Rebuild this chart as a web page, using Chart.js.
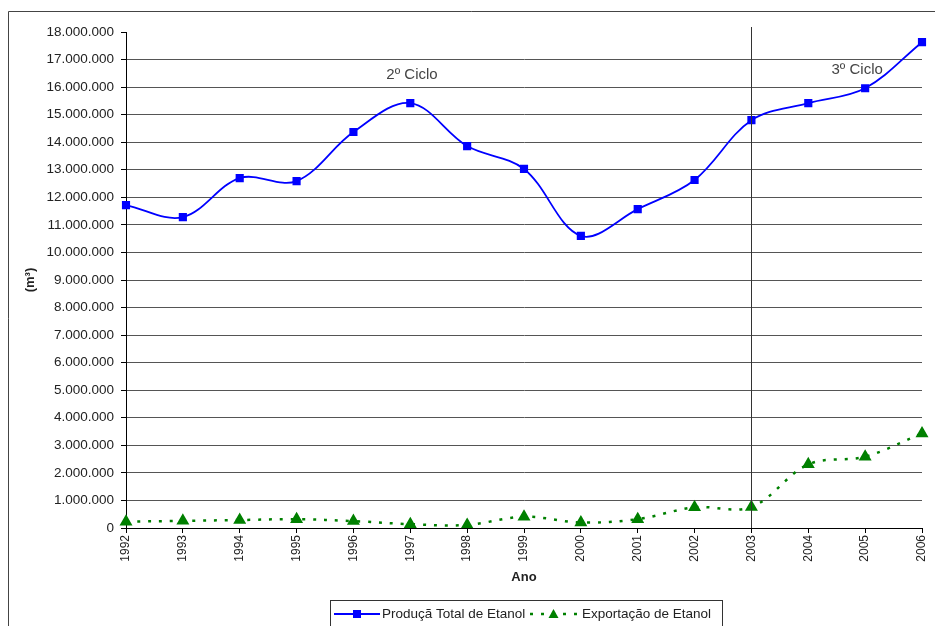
<!DOCTYPE html>
<html>
<head>
<meta charset="utf-8">
<title>Produção e Exportação de Etanol</title>
<script src="https://cdn.jsdelivr.net/npm/chart.js@4.4.1/dist/chart.umd.min.js"></script>
<style>
    body {
        margin: 0;
        padding: 0;
        background-color: #fff;
    }

    canvas {
        display: block;
    }
</style>
</head>
<body>
<canvas id="grafico" width="935" height="626"></canvas>
<script>
    // dados (m³)
    const anos = ["1992", "1993", "1994", "1995", "1996", "1997", "1998", "1999",
                  "2000", "2001", "2002", "2003", "2004", "2005", "2006"];
    const producao = [11720000, 11280000, 12700000, 12590000, 14370000, 15420000, 13860000, 13030000,
                      10600000, 11570000, 12630000, 14800000, 15420000, 15960000, 17630000];
    const exportacao = [230000, 260000, 290000, 320000, 250000, 140000, 110000, 410000,
                        200000, 320000, 750000, 760000, 2310000, 2590000, 3430000];
    const ciclos = [
        { texto: "2º Ciclo", x: 5.03, y: 16450000 },
        { texto: "3º Ciclo", x: 12.86, y: 16620000 }
    ];
    const anoDivisao = "2003";

    const fonte = "Arial, 'Liberation Sans', sans-serif";

    function formatar(v) {
        return String(v).replace(/\B(?=(\d{3})+(?!\d))/g, ".");
    }

    const extras = {
        id: "extras",
        afterDraw(chart) {
            const ctx = chart.ctx;
            const x = chart.scales.x;
            const y = chart.scales.y;
            const area = chart.chartArea;

            ctx.save();
            // moldura
            ctx.strokeStyle = "#444";
            ctx.lineWidth = 1;
            ctx.beginPath();
            ctx.moveTo(8.5, 626);
            ctx.lineTo(8.5, 11.5);
            ctx.lineTo(935, 11.5);
            ctx.stroke();

            // divisão entre ciclos
            const xd = Math.round(x.getPixelForValue(anos.indexOf(anoDivisao))) + 0.5;
            ctx.strokeStyle = "#333";
            ctx.beginPath();
            ctx.moveTo(xd, area.top - 5);
            ctx.lineTo(xd, area.bottom);
            ctx.stroke();

            // textos dos ciclos
            ctx.fillStyle = "#444";
            ctx.font = "15px " + fonte;
            ctx.textAlign = "center";
            ctx.textBaseline = "middle";
            ciclos.forEach(c => {
                ctx.fillText(c.texto, x.getPixelForValue(c.x), y.getPixelForValue(c.y));
            });

            // legenda
            ctx.strokeStyle = "#333";
            ctx.fillStyle = "#fff";
            ctx.fillRect(330, 600, 392, 30);
            ctx.strokeRect(330.5, 600.5, 392, 30);
            ctx.font = "13.5px " + fonte;
            ctx.textAlign = "left";
            ctx.fillStyle = "#222";
            const ly = 614;
            const itens = [{ x0: 334, x1: 380, tx: 382 }, { x0: 530, x1: 577, tx: 582 }];
            chart.data.datasets.forEach((ds, i) => {
                const it = itens[i];
                ctx.save();
                ctx.strokeStyle = ds.borderColor;
                ctx.lineWidth = ds.borderWidth;
                ctx.setLineDash(ds.borderDash || []);
                ctx.beginPath();
                ctx.moveTo(it.x0, ly);
                ctx.lineTo(it.x1, ly);
                ctx.stroke();
                ctx.setLineDash([]);
                ctx.fillStyle = ds.pointBackgroundColor;
                const cx = (it.x0 + it.x1) / 2;
                if (ds.pointStyle === "rect") {
                    ctx.fillRect(cx - 4, ly - 4, 8, 8);
                } else {
                    ctx.beginPath();
                    ctx.moveTo(cx, ly - 5);
                    ctx.lineTo(cx + 5, ly + 4);
                    ctx.lineTo(cx - 5, ly + 4);
                    ctx.closePath();
                    ctx.fill();
                }
                ctx.restore();
                ctx.fillText(ds.label, it.tx, ly);
            });
            ctx.restore();
        }
    };

    new Chart(document.getElementById("grafico"), {
        type: "line",
        data: {
            labels: anos,
            datasets: [{
                label: "Produçã Total de Etanol",
                data: producao,
                borderColor: "#0000ff",
                backgroundColor: "#0000ff",
                pointBackgroundColor: "#0000ff",
                pointBorderColor: "#0000ff",
                borderWidth: 1.8,
                pointStyle: "rect",
                pointRadius: 4.5,
                tension: 0.35,
                fill: false
            }, {
                label: "Exportação de Etanol",
                data: exportacao,
                borderColor: "#008000",
                backgroundColor: "#008000",
                pointBackgroundColor: "#008000",
                pointBorderColor: "#008000",
                borderWidth: 2.5,
                borderDash: [3, 8],
                pointStyle: "triangle",
                pointRadius: 5,
                tension: 0.35,
                fill: false
            }]
        },
        options: {
            responsive: false,
            animation: false,
            layout: {
                padding: { left: 0, right: 13, top: 32, bottom: 38 }
            },
            plugins: {
                legend: { display: false },
                tooltip: { enabled: false }
            },
            scales: {
                x: {
                    offset: false,
                    afterFit(scale) {
                        scale.height = 60;
                        scale.paddingLeft = 0;
                        scale.paddingRight = 0;
                    },
                    border: { color: "#000", width: 1 },
                    grid: {
                        drawOnChartArea: false,
                        drawTicks: true,
                        tickLength: 5,
                        tickColor: "#000"
                    },
                    ticks: {
                        minRotation: 90,
                        maxRotation: 90,
                        padding: 2,
                        color: "#222",
                        font: { family: fonte, size: 12 }
                    },
                    title: {
                        display: true,
                        text: "Ano",
                        color: "#222",
                        padding: { top: 0, bottom: 2.8 },
                        font: { family: fonte, size: 13, weight: "bold" }
                    }
                },
                y: {
                    min: 0,
                    max: 18000000,
                    afterFit(scale) { scale.width = 126; },
                    border: { color: "#000", width: 1 },
                    grid: {
                        color: c => c.tick && c.tick.value === 18000000 ? "rgba(0,0,0,0)" : "#555",
                        tickColor: "#000",
                        tickLength: 5
                    },
                    ticks: {
                        stepSize: 1000000,
                        padding: 7,
                        color: "#222",
                        font: { family: fonte, size: 13.5 },
                        callback: v => formatar(v)
                    },
                    title: {
                        display: true,
                        text: "(m³)",
                        color: "#222",
                        padding: { top: 23, bottom: 0 },
                        font: { family: fonte, size: 13, weight: "bold" }
                    }
                }
            }
        },
        plugins: [extras]
    });
</script>
</body>
</html>
